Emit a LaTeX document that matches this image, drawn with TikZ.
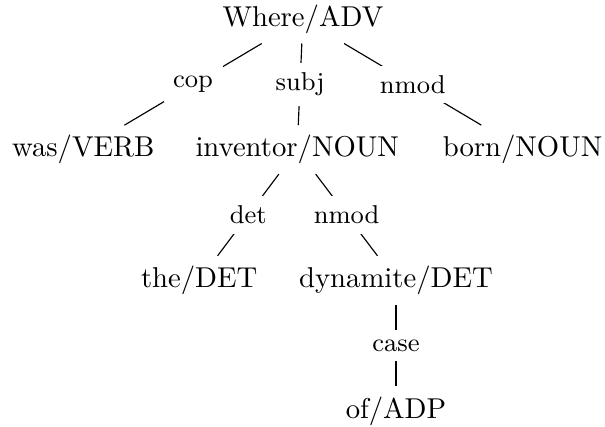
\documentclass[tikz,border=0pt]{standalone}
\usepackage{amsmath}
\usepackage{tikz}
\usetikzlibrary{positioning}

\begin{document}
\begin{tikzpicture}[word/.style={inner sep=0.3333em},
                    deprel/.style={fill=white, font=\small, inner sep=0.3333em}]
                \useasboundingbox (-3.71,0.233) rectangle (3.70,-4.996);

                % Words of the sentence
                \node[word] (where) at (0,0) {Where/ADV};
                \node[word] (was) at (-2.69,-1.6) {was/VERB};
                \node[word] (inventor) at (-0.07,-1.6) {inventor/NOUN};
                \node[word] (born) at (2.69,-1.6) {born/NOUN};
                \node[word] (the) at (-1.27,-3.2) {the/DET};
                \node[word] (dynamite) at (1.14,-3.2) {dynamite/DET};
                \node[word] (of) at (1.14,-4.8) {of/ADP};

                % Dependency edges, label on top of each edge
                \draw (where) -- node[deprel] (cop) {cop} (was);
                \draw (where) -- node[deprel] (subj) {subj} (inventor);
                \draw (where) -- node[deprel] (nmodA) {nmod} (born);
                \draw (inventor) -- node[deprel] (det) {det} (the);
                \draw (inventor) -- node[deprel] (nmodB) {nmod} (dynamite);
                \draw (dynamite) -- node[deprel] (case) {case} (of);

            \end{tikzpicture}
\end{document}
